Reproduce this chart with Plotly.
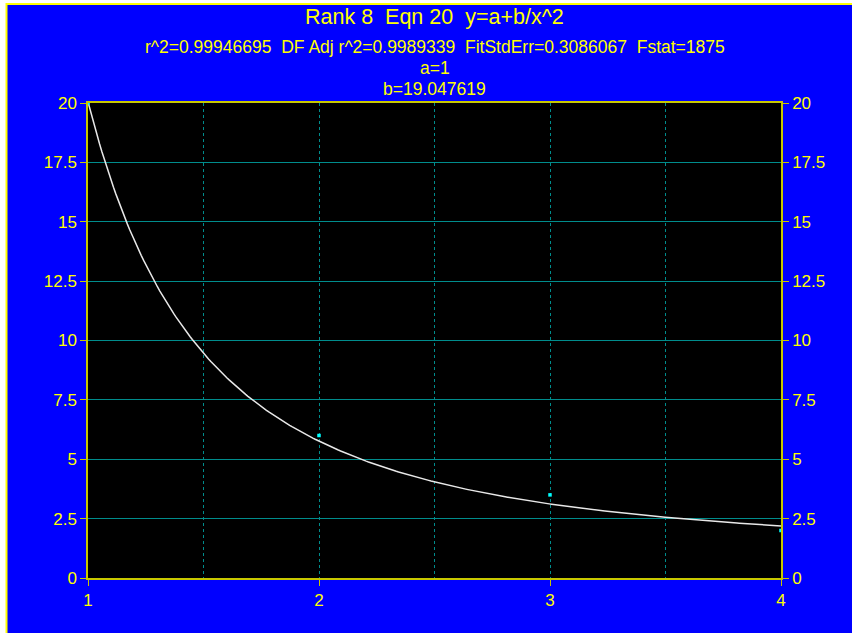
import numpy as np
import plotly.graph_objects as go

# Data points
x_data = [1, 2, 3, 4]
y_data = [20.0, 6.0, 3.5, 2.0]

# Fitted model parameters (y = a + b/x^2)
a_param = 1.0
b_param = 19.047619

title_lines = [
    "Rank 8  Eqn 20  y=a+b/x^2",
    "r^2=0.99946695  DF Adj r^2=0.9989339  FitStdErr=0.3086067  Fstat=1875",
    "a=1",
    "b=19.047619",
]
x_ticks = [1, 2, 3, 4]
y_ticks = [0, 2.5, 5, 7.5, 10, 12.5, 15, 17.5, 20]
y_ticklabels = ["0", "2.5", "5", "7.5", "10", "12.5", "15", "17.5", "20"]

x_fit = np.linspace(1, 4, 300)
y_fit = a_param + b_param / x_fit**2

YELLOW = "#FFFF00"
AXIS = "#C8C800"
GRID = "#008C8C"
FONT = "Liberation Sans, Arial, sans-serif"

fig = go.Figure()
fig.add_trace(go.Scatter(x=x_fit, y=y_fit, mode="lines",
                         line=dict(color="#E8E8E8", width=1.5), hoverinfo="skip"))
fig.add_trace(go.Scatter(x=x_data, y=y_data, mode="markers",
                         marker=dict(color="#00FFFF", size=3.5, symbol="square"),
                         cliponaxis=False))
fig.add_trace(go.Scatter(x=[1, 4], y=[0, 20], yaxis="y2", mode="markers",
                         marker=dict(opacity=0), hoverinfo="skip"))

L, R, T, B = 88, 71, 103, 55
W, H = 852, 633
pw, ph = W - L - R, H - T - B

def px_x(p):
    return (p - L) / pw

def px_y(p):
    return (H - B - p) / ph

TICKFONT = dict(size=17, color=YELLOW, family=FONT)

fig.update_layout(
    width=W, height=H,
    margin=dict(l=L, r=R, t=T, b=B, pad=0),
    paper_bgcolor="#0000FF",
    plot_bgcolor="#000000",
    showlegend=False,
    font=dict(family=FONT, color=YELLOW, size=17),
    xaxis=dict(
        range=[1, 4], tickvals=x_ticks, ticktext=[str(v) for v in x_ticks],
        showline=True, linecolor=AXIS, linewidth=1.5, mirror=True,
        ticks="outside", ticklen=6, tickcolor=AXIS,
        showgrid=True, gridcolor=GRID, griddash="dot", gridwidth=1.2,
        minor=dict(dtick=0.5, tick0=1, showgrid=True, gridcolor=GRID, griddash="dot",
                   gridwidth=1.2, ticks=""),
        zeroline=False, tickfont=TICKFONT,
    ),
    yaxis=dict(
        range=[0, 20], tickvals=y_ticks, ticktext=y_ticklabels,
        showline=True, linecolor=AXIS, linewidth=1.5, mirror=True,
        ticks="outside", ticklen=6, tickcolor=AXIS,
        showgrid=True, gridcolor=GRID, gridwidth=1,
        zeroline=False, tickfont=TICKFONT,
    ),
    yaxis2=dict(
        range=[0, 20], tickvals=y_ticks, ticktext=y_ticklabels,
        overlaying="y", side="right",
        showline=True, linecolor=AXIS, linewidth=1.5,
        ticks="outside", ticklen=6, tickcolor=AXIS,
        showgrid=False, zeroline=False,
        tickfont=TICKFONT,
    ),
)

# Title lines
title_y = [17, 47, 68, 89]
title_sizes = [21.5, 17.5, 17.5, 17.5]
for txt, yy, sz in zip(title_lines, title_y, title_sizes):
    fig.add_annotation(text=txt, xref="paper", yref="paper", x=0.5, y=px_y(yy),
                       showarrow=False, xanchor="center", yanchor="middle",
                       font=dict(size=sz, color=YELLOW, family=FONT))

# Window frame: white strip at left and yellow border
fig.add_shape(type="rect", xref="paper", yref="paper",
              x0=px_x(0), x1=px_x(6), y0=px_y(H), y1=px_y(0),
              fillcolor="white", line=dict(width=0), layer="below")
fig.add_shape(type="line", xref="paper", yref="paper",
              x0=px_x(6.5), x1=px_x(6.5), y0=px_y(H), y1=px_y(3),
              line=dict(color="#FFFF00", width=2), layer="below")
fig.add_shape(type="line", xref="paper", yref="paper",
              x0=px_x(6), x1=px_x(W), y0=px_y(4), y1=px_y(4),
              line=dict(color="#FFFF00", width=2), layer="below")
fig.add_shape(type="rect", xref="paper", yref="paper",
              x0=px_x(0), x1=px_x(W), y0=px_y(3), y1=px_y(0),
              fillcolor="white", line=dict(width=0), layer="below")

fig.write_html("out.html")
